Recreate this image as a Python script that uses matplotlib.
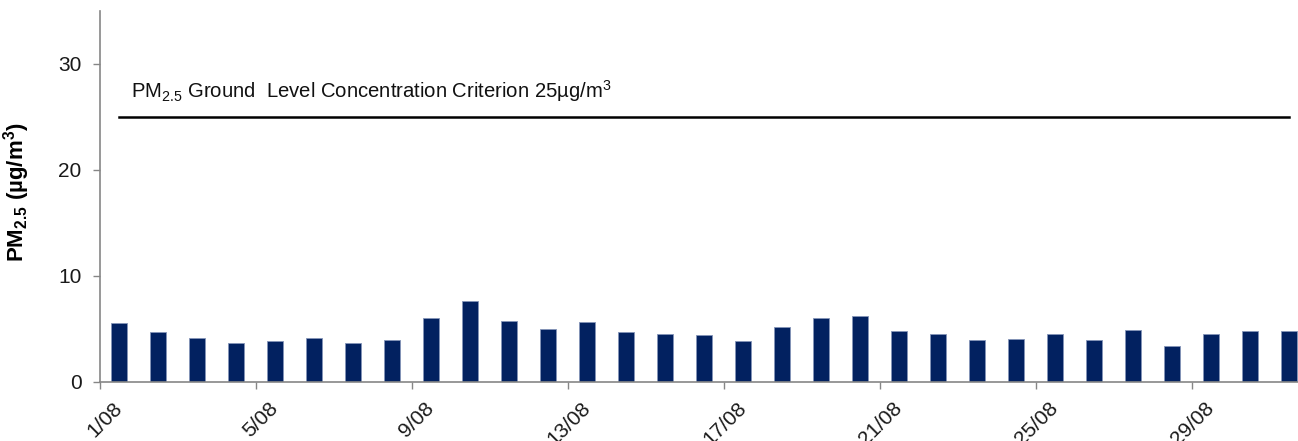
#!/usr/bin/env python3
"""Daily PM2.5 ground level concentrations for August vs the 25 ug/m3 criterion."""
import matplotlib
matplotlib.use("Agg")
import matplotlib.pyplot as plt
import numpy as np

plt.rcParams["font.family"] = ["Liberation Sans", "DejaVu Sans"]
plt.rcParams["mathtext.fontset"] = "custom"
plt.rcParams["mathtext.rm"] = "Liberation Sans"
plt.rcParams["mathtext.it"] = "Liberation Sans:italic"
plt.rcParams["mathtext.bf"] = "Liberation Sans:bold"

days = [f"{d}/08" for d in range(1, 32)]
pm25 = [5.5, 4.7, 4.1, 3.7, 3.8, 4.1, 3.7, 3.9, 6.0, 7.65,
        5.7, 4.95, 5.6, 4.65, 4.5, 4.4, 3.8, 5.15, 6.05, 6.25,
        4.75, 4.55, 3.9, 4.0, 4.5, 3.9, 4.85, 3.35, 4.55, 4.75, 4.8]
criterion = 25
label_every = 4

BAR = "#022160"
SPINE = "#868686"

fig = plt.figure(figsize=(12.98, 4.41), dpi=100)
ax = fig.add_axes([99.5 / 1298, 59.3 / 441, 1209.5 / 1298, 370.7 / 441])

x = np.arange(len(days))
ax.bar(x, pm25, width=0.41, color=BAR, edgecolor="#8494b8", linewidth=0.6, zorder=2)
ax.plot([x[0], x[-1]], [criterion, criterion], color="black", lw=1.8, zorder=3)
ax.text(0.3, 26.8, r"PM$_{2.5}$ Ground  Level Concentration Criterion 25µg/m$^{3}$",
        fontsize=14.6, color="#111111", ha="left", va="baseline")

ax.set_xlim(-0.5, len(days) - 0.5)
ax.set_ylim(0, 35)
ax.set_yticks([0, 10, 20, 30])
ax.tick_params(axis="y", length=5, width=1, color=SPINE, pad=8, labelsize=15,
               labelcolor="#1a1a1a")

# tick marks on category boundaries, labels on category centres
ax.set_xticks(np.arange(-0.5, len(days), label_every))
ax.set_xticklabels([])
ax.set_xticks(x[::label_every], minor=True)
ax.set_xticklabels(days[::label_every], minor=True, rotation=45, ha="right",
                   va="center", rotation_mode="anchor")
ax.tick_params(axis="x", which="major", length=5, width=1, color=SPINE)
ax.tick_params(axis="x", which="minor", length=0, pad=17, labelsize=15,
               labelcolor="#1a1a1a")

for s in ("top", "right"):
    ax.spines[s].set_visible(False)
for s in ("left", "bottom"):
    ax.spines[s].set_color(SPINE)
    ax.spines[s].set_linewidth(1.2)

ax.set_ylabel(r"PM$_{\mathbf{2.5}}$ (µg/m$^{\mathbf{3}}$)", fontsize=16, fontweight="bold")
ax.yaxis.set_label_coords(-0.056, 0.51)

fig.savefig("out.png", dpi=100)
